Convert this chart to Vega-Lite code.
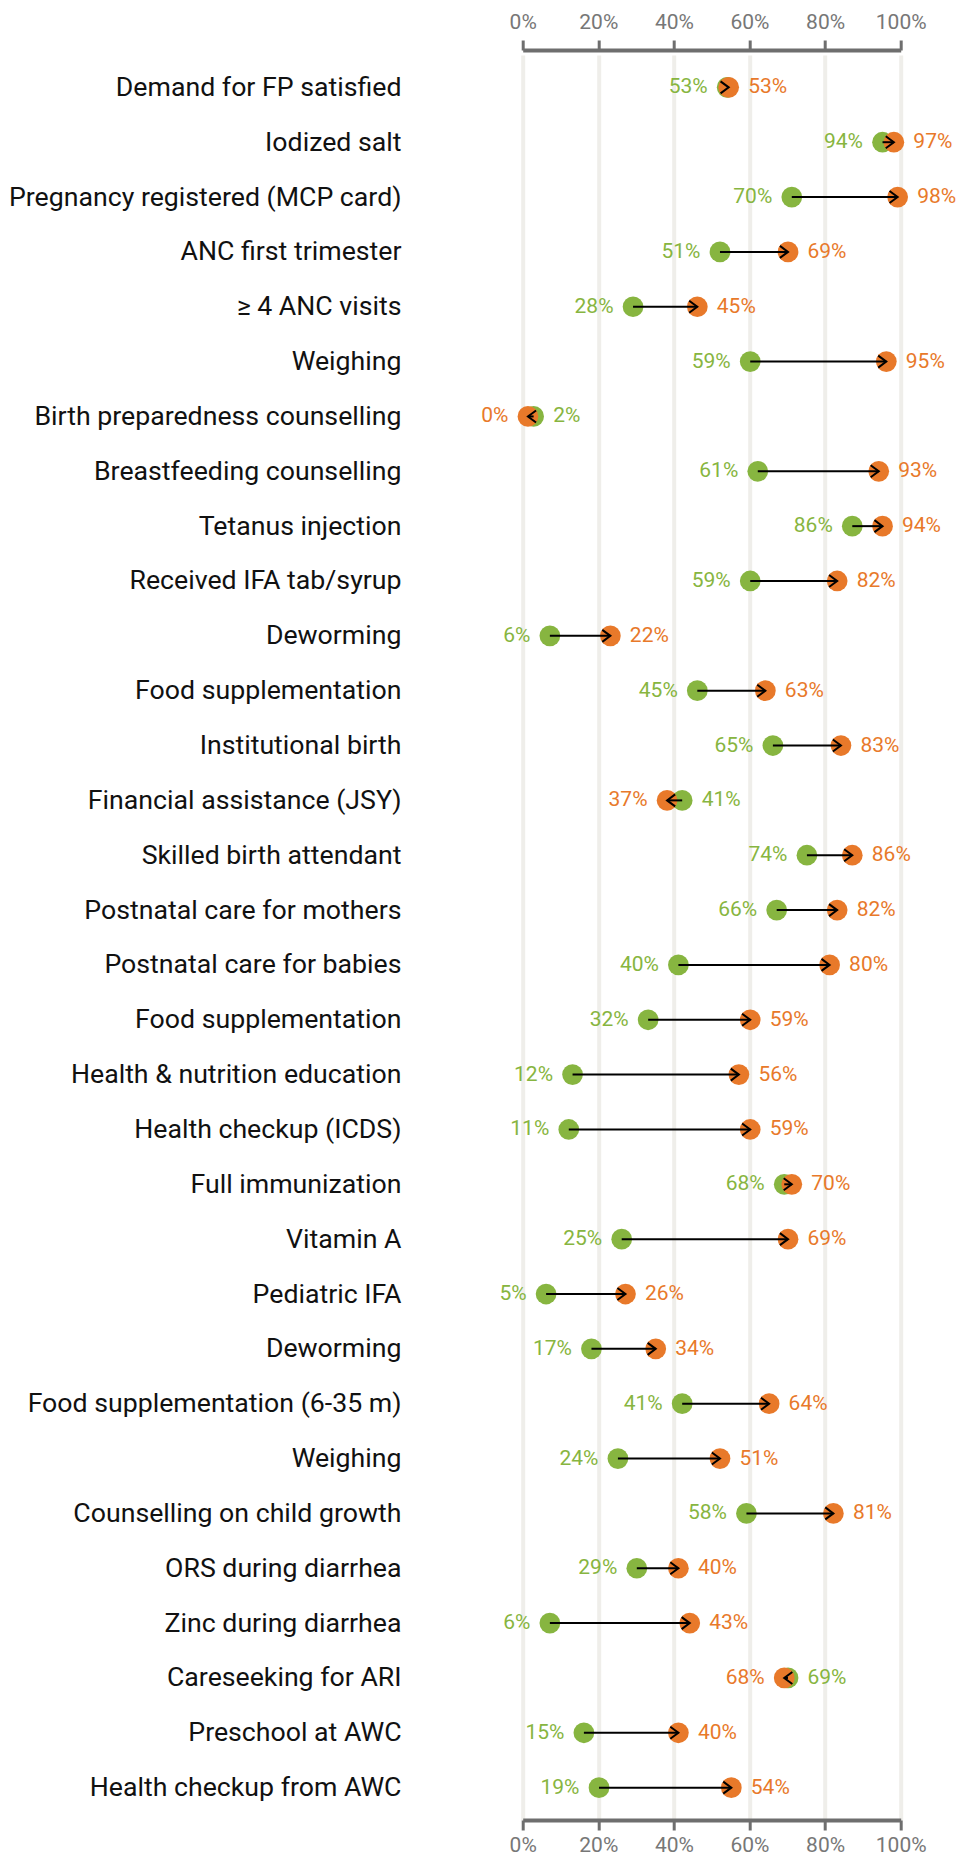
{
  "$schema": "https://vega.github.io/schema/vega-lite/v6.json",
  "autosize": {"type": "none"},
  "width": 378,
  "height": 1765,
  "padding": {"left": 522.7, "top": 55, "right": 56.3, "bottom": 36},
  "background": "white",
  "config": {"view": {"stroke": null}, "font": "Roboto"},
  "data": {
    "values": [
      {"k": "01|Demand for FP satisfied", "g": 0.529, "o": 0.533},
      {"k": "02|Iodized salt", "g": 0.94, "o": 0.97},
      {"k": "03|Pregnancy registered (MCP card)", "g": 0.70, "o": 0.98},
      {"k": "04|ANC first trimester", "g": 0.51, "o": 0.69},
      {"k": "05|≥ 4 ANC visits", "g": 0.28, "o": 0.45},
      {"k": "06|Weighing", "g": 0.59, "o": 0.95},
      {"k": "07|Birth preparedness counselling", "g": 0.017, "o": 0.002},
      {"k": "08|Breastfeeding counselling", "g": 0.61, "o": 0.93},
      {"k": "09|Tetanus injection", "g": 0.86, "o": 0.94},
      {"k": "10|Received IFA tab/syrup", "g": 0.59, "o": 0.82},
      {"k": "11|Deworming", "g": 0.06, "o": 0.22},
      {"k": "12|Food supplementation", "g": 0.45, "o": 0.63},
      {"k": "13|Institutional birth", "g": 0.65, "o": 0.83},
      {"k": "14|Financial assistance (JSY)", "g": 0.41, "o": 0.37},
      {"k": "15|Skilled birth attendant", "g": 0.74, "o": 0.86},
      {"k": "16|Postnatal care for mothers", "g": 0.66, "o": 0.82},
      {"k": "17|Postnatal care for babies", "g": 0.40, "o": 0.80},
      {"k": "18|Food supplementation", "g": 0.32, "o": 0.59},
      {"k": "19|Health & nutrition education", "g": 0.12, "o": 0.56},
      {"k": "20|Health checkup (ICDS)", "g": 0.11, "o": 0.59},
      {"k": "21|Full immunization", "g": 0.68, "o": 0.70},
      {"k": "22|Vitamin A", "g": 0.25, "o": 0.69},
      {"k": "23|Pediatric IFA", "g": 0.05, "o": 0.26},
      {"k": "24|Deworming", "g": 0.17, "o": 0.34},
      {"k": "25|Food supplementation (6-35 m)", "g": 0.41, "o": 0.64},
      {"k": "26|Weighing", "g": 0.24, "o": 0.51},
      {"k": "27|Counselling on child growth", "g": 0.58, "o": 0.81},
      {"k": "28|ORS during diarrhea", "g": 0.29, "o": 0.40},
      {"k": "29|Zinc during diarrhea", "g": 0.06, "o": 0.43},
      {"k": "30|Careseeking for ARI", "g": 0.69, "o": 0.68},
      {"k": "31|Preschool at AWC", "g": 0.15, "o": 0.40},
      {"k": "32|Health checkup from AWC", "g": 0.19, "o": 0.54}
    ]
  },
  "encoding": {
    "y": {
      "field": "k", "type": "ordinal", "sort": null,
      "scale": {"type": "point", "padding": 0.59},
      "axis": {
        "title": null, "domain": false, "ticks": false, "grid": false,
        "labelPadding": 121.7, "labelFontSize": 26.7, "labelColor": "#111111",
        "labelFont": "Roboto", "labelLimit": 0,
        "labelExpr": "substring(datum.value, 3)"
      }
    }
  },
  "layer": [
    {
      "mark": {"type": "point", "filled": true, "opacity": 1, "size": 430, "color": "#87b540", "xOffset": 4.5},
      "encoding": {
        "x": {
          "field": "g", "type": "quantitative", "scale": {"domain": [0, 1], "nice": false, "zero": false},
          "axis": {
            "orient": "top", "offset": 5, "values": [0, 0.2, 0.4, 0.6, 0.8, 1], "format": ".0%",
            "title": null, "grid": false, "domainColor": "#6e6e6e", "domainWidth": 4,
            "tickColor": "#6e6e6e", "tickWidth": 3, "tickSize": 10,
            "labelFlush": false, "labelOverlap": false,
            "labelFont": "Roboto", "labelFontSize": 21, "labelColor": "#777777", "labelPadding": 8
          }
        }
      }
    },
    {
      "mark": {"type": "point", "filled": true, "opacity": 1, "size": 430, "color": "#e8792a", "xOffset": 4.5},
      "encoding": {
        "x": {
          "field": "o", "type": "quantitative", "scale": {"domain": [0, 1], "nice": false, "zero": false},
          "axis": {
            "orient": "bottom", "offset": 0, "values": [0, 0.2, 0.4, 0.6, 0.8, 1], "format": ".0%",
            "title": null, "grid": true, "gridColor": "#efeeea", "gridWidth": 4,
            "domainColor": "#6e6e6e", "domainWidth": 4,
            "tickColor": "#6e6e6e", "tickWidth": 3, "tickSize": 10,
            "labelFlush": false, "labelOverlap": false,
            "labelFont": "Roboto", "labelFontSize": 21, "labelColor": "#777777", "labelPadding": 4
          }
        }
      }
    },
    {
      "mark": {"type": "rule", "color": "#000000", "strokeWidth": 2, "xOffset": 4.5, "x2Offset": 4.5},
      "encoding": {
        "x": {"field": "g", "type": "quantitative", "axis": null},
        "x2": {"field": "o"}
      }
    },
    {
      "transform": [{"filter": "datum.o >= datum.g"}],
      "mark": {"type": "point", "filled": false, "opacity": 1, "size": 144, "strokeWidth": 2, "color": "#000000", "shape": "M-1.35,-1L0,0L-1.35,1", "xOffset": 4.5},
      "encoding": {"x": {"field": "o", "type": "quantitative", "axis": null}}
    },
    {
      "transform": [{"filter": "datum.o < datum.g"}],
      "mark": {"type": "point", "filled": false, "opacity": 1, "size": 144, "strokeWidth": 2, "color": "#000000", "shape": "M1.35,-1L0,0L1.35,1", "xOffset": 4.5},
      "encoding": {"x": {"field": "o", "type": "quantitative", "axis": null}}
    },
    {
      "transform": [{"filter": "datum.g <= datum.o"}],
      "mark": {"type": "text", "align": "right", "baseline": "middle", "dx": -19.5, "xOffset": 4.5, "font": "Roboto", "fontSize": 21, "color": "#87b540"},
      "encoding": {
        "x": {"field": "g", "type": "quantitative", "axis": null},
        "text": {"field": "g", "type": "quantitative", "format": ".0%"}
      }
    },
    {
      "transform": [{"filter": "datum.g > datum.o"}],
      "mark": {"type": "text", "align": "left", "baseline": "middle", "dx": 19.5, "xOffset": 4.5, "font": "Roboto", "fontSize": 21, "color": "#87b540"},
      "encoding": {
        "x": {"field": "g", "type": "quantitative", "axis": null},
        "text": {"field": "g", "type": "quantitative", "format": ".0%"}
      }
    },
    {
      "transform": [{"filter": "datum.o >= datum.g"}],
      "mark": {"type": "text", "align": "left", "baseline": "middle", "dx": 19.5, "xOffset": 4.5, "font": "Roboto", "fontSize": 21, "color": "#e8792a"},
      "encoding": {
        "x": {"field": "o", "type": "quantitative", "axis": null},
        "text": {"field": "o", "type": "quantitative", "format": ".0%"}
      }
    },
    {
      "transform": [{"filter": "datum.o < datum.g"}],
      "mark": {"type": "text", "align": "right", "baseline": "middle", "dx": -19.5, "xOffset": 4.5, "font": "Roboto", "fontSize": 21, "color": "#e8792a"},
      "encoding": {
        "x": {"field": "o", "type": "quantitative", "axis": null},
        "text": {"field": "o", "type": "quantitative", "format": ".0%"}
      }
    }
  ],
  "resolve": {"axis": {"x": "independent"}}
}
